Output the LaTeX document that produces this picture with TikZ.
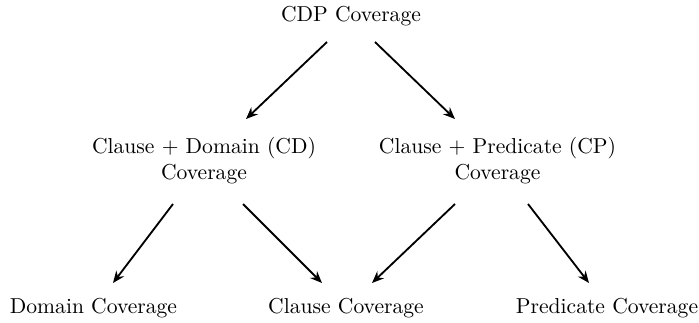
\documentclass[tikz,border=0pt]{standalone}
\usetikzlibrary{arrows.meta}
\begin{document}
\begin{tikzpicture}[x=0.463pt,y=-0.463pt,
  lab/.style={align=center,inner sep=0pt,font=\normalsize},
  conn/.style={-{Stealth[length=5.5pt,width=4.5pt]},line width=0.85pt}]
\useasboundingbox (0,0) rectangle (699,323);
\node[lab] (cdp) at (351,15.7) {CDP Coverage};
\node[lab] (cd) at (204,160.5) {Clause + Domain (CD)\\Coverage};
\node[lab] (cp) at (497.5,160.5) {Clause + Predicate (CP)\\Coverage};
\node[lab] (dom) at (93.5,307.7) {Domain Coverage};
\node[lab] (cla) at (346,307.7) {Clause Coverage};
\node[lab] (pre) at (607,307.7) {Predicate Coverage};
\draw[conn] ([shift={(-24,26.3)}]cdp.center) -- ([shift={(42,-41.5)}]cd.center);
\draw[conn] ([shift={(24,26.3)}]cdp.center) -- ([shift={(-42.5,-41.5)}]cp.center);
\draw[conn] ([shift={(-31,43.5)}]cd.center) -- ([shift={(19.5,-24.7)}]dom.center);
\draw[conn] ([shift={(39,43.5)}]cd.center) -- ([shift={(-24,-24.7)}]cla.center);
\draw[conn] ([shift={(-42.5,43.5)}]cp.center) -- ([shift={(26,-24.7)}]cla.center);
\draw[conn] ([shift={(30.5,43.5)}]cp.center) -- ([shift={(-18,-24.7)}]pre.center);
\end{tikzpicture}
\end{document}
